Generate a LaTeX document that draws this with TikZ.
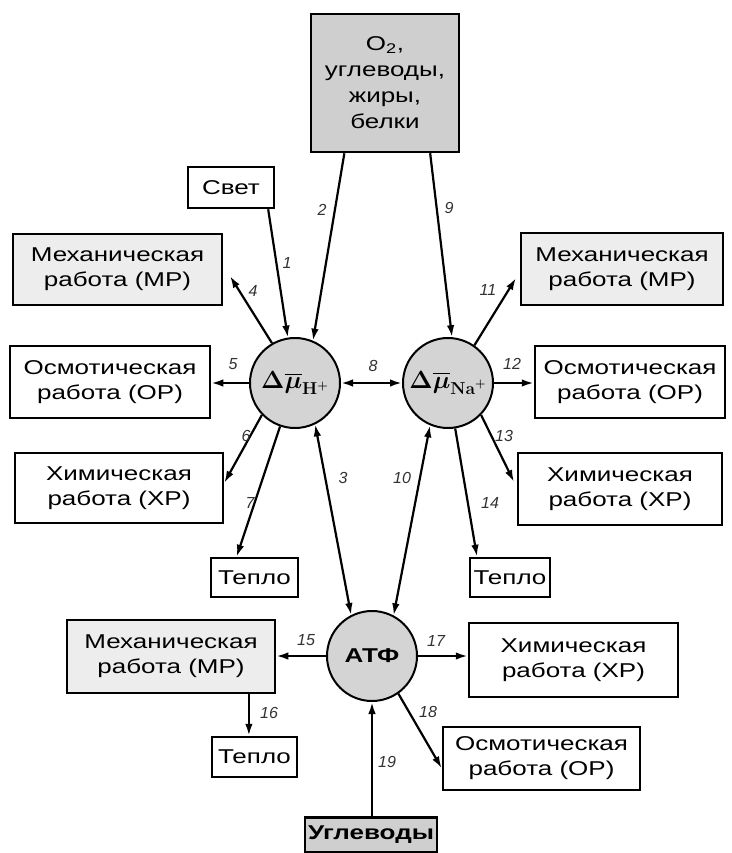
\documentclass[tikz,border=0pt]{standalone}
\usepackage{amsmath}
\usepackage[no-math]{fontspec}
\setmainfont{Liberation Sans}[FakeStretch=1.3]
\newfontfamily\lblfont{Liberation Sans}
\usetikzlibrary{arrows.meta,calc}
\definecolor{circfill}{HTML}{D4D4D4}
\definecolor{darkfill}{HTML}{CFCFCF}
\definecolor{lightfill}{HTML}{EDEDED}
\begin{document}
\begin{tikzpicture}[x=1pt,y=-1pt,
  box/.style={draw, line width=2.5pt, inner sep=0pt, align=center,
    font=\fontsize{20}{25}\selectfont},
  circnode/.style={circle, draw, line width=2pt, fill=circfill, minimum size=90pt, inner sep=0pt,
    font=\fontsize{24}{24}\selectfont},
  arr/.style={line width=2.2pt, -{Latex[length=12pt,width=7.5pt]}},
  darr/.style={line width=2.2pt, {Latex[length=12pt,width=7.5pt]}-{Latex[length=12pt,width=7.5pt]}},
  lbl/.style={font=\lblfont\itshape\fontsize{16}{16}\selectfont, text=black!80, inner sep=0pt}]
\useasboundingbox[fill=white] (0,0) rectangle (731,853);

% boxes
\node[box, fill=darkfill, minimum width=148pt, minimum height=138pt, font=\fontsize{20}{26}\selectfont] (top) at (385,83) {O\textsubscript{2},\\углеводы,\\жиры,\\белки};
\node[box, minimum width=86pt, minimum height=41pt] (svet) at (231,187.5) {Свет};
\node[box, fill=lightfill, minimum width=209pt, minimum height=71pt] (mpL) at (117.5,269.5) {Механическая\\работа (МР)};
\node[box, minimum width=200pt, minimum height=72pt] (orL) at (110,382) {Осмотическая\\работа (ОР)};
\node[box, minimum width=208pt, minimum height=70pt] (xrL) at (119,488) {Химическая\\работа (ХР)};
\node[box, minimum width=87pt, minimum height=39pt] (tepL) at (254.5,577.5) {Тепло};
\node[box, fill=lightfill, minimum width=202pt, minimum height=72pt] (mpR) at (622,269) {Механическая\\работа (МР)};
\node[box, minimum width=190pt, minimum height=72pt] (orR) at (630,382) {Осмотическая\\работа (ОР)};
\node[box, minimum width=204pt, minimum height=72pt] (xrR) at (620,489) {Химическая\\работа (ХР)};
\node[box, minimum width=80pt, minimum height=39pt] (tepR) at (510,577.5) {Тепло};
\node[box, fill=lightfill, minimum width=208pt, minimum height=73pt] (mpB) at (171,656.5) {Механическая\\работа (МР)};
\node[box, minimum width=85pt, minimum height=40pt] (tepB) at (254.5,757) {Тепло};
\node[box, minimum width=209pt, minimum height=74pt] (xrB) at (573.5,660) {Химическая\\работа (ХР)};
\node[box, minimum width=197pt, minimum height=63pt] (orB) at (541.5,758.5) {Осмотическая\\работа (ОР)};
\node[box, fill=darkfill, minimum width=132pt, minimum height=35pt, font=\bfseries\fontsize{20}{25}\selectfont] (ugl) at (371,835) {Углеводы};

% circles
\node[circnode] (cH) at (295,383) {$\boldsymbol{\Delta}\overline{\boldsymbol{\mu}}_{\mathbf{H}^{\boldsymbol{+}}}$};
\node[circnode] (cNa) at (448,383) {$\boldsymbol{\Delta}\overline{\boldsymbol{\mu}}_{\mathbf{Na}^{\boldsymbol{+}}}$};
\node[circnode, font=\bfseries\fontsize{20}{20}\selectfont] (atp) at (372,656) {АТФ};

% free arrow ends
\coordinate (e4) at (230,276);
\coordinate (e11) at (516,278);
\coordinate (e13) at (514,482);

% connectors
\draw[arr] ($(svet.south west)!0.92!(svet.south east)$) -- (cH.99);
\draw[arr] ($(top.south west)!0.23!(top.south east)$) -- (cH.67);
\draw[arr] ($(top.south west)!0.80!(top.south east)$) -- (cNa.85);
\draw[arr] (cH.120) -- (e4);
\draw[arr] (cH.west) -- (cH.west -| orL.east);
\draw[arr] (cH.224) -- ($(xrL.south east)!0.57!(xrL.north east)$);
\draw[arr] (cH.251) -- ($(tepL.north west)!0.3!(tepL.north east)$);
\draw[darr] (cH.east) -- (cNa.west);
\draw[darr] (cH.296) -- (atp.117);
\draw[darr] (cNa.247) -- (atp.62);
\draw[arr] (cNa.55) -- (e11);
\draw[arr] (cNa.east) -- (cNa.east -| orR.west);
\draw[arr] (cNa.316) -- (e13);
\draw[arr] (cNa.279) -- ($(tepR.north west)!0.1!(tepR.north east)$);
\draw[arr] (atp.west) -- (atp.west -| mpB.east);
\draw[arr] (atp.east) -- (atp.east -| xrB.west);
\draw[arr] (atp.305) -- ($(orB.south west)!0.35!(orB.north west)$);
\coordinate (s16) at ($(mpB.south west)!0.87!(mpB.south east)$);
\draw[arr] (s16) -- (s16 |- tepB.north);
\draw[arr] (atp.south |- ugl.north) -- (atp.south);

% labels
\node[lbl] (l1) at (287,263) {1};
\node[lbl] (l2) at (322,210) {2};
\node[lbl] (l3) at (343,478) {3};
\node[lbl] (l4) at (253,291) {4};
\node[lbl] (l5) at (233,364) {5};
\node[lbl] (l6) at (246,436) {6};
\node[lbl] (l7) at (250,503) {7};
\node[lbl] (l8) at (373,366) {8};
\node[lbl] (l9) at (449,208) {9};
\node[lbl] (l10) at (402,478) {10};
\node[lbl] (l11) at (488,290) {11};
\node[lbl] (l12) at (512,364) {12};
\node[lbl] (l13) at (504,436) {13};
\node[lbl] (l14) at (490,503) {14};
\node[lbl] (l15) at (306,640) {15};
\node[lbl] (l16) at (269,713) {16};
\node[lbl] (l17) at (436,641) {17};
\node[lbl] (l18) at (428,712) {18};
\node[lbl] (l19) at (387,762) {19};
\end{tikzpicture}
\end{document}
